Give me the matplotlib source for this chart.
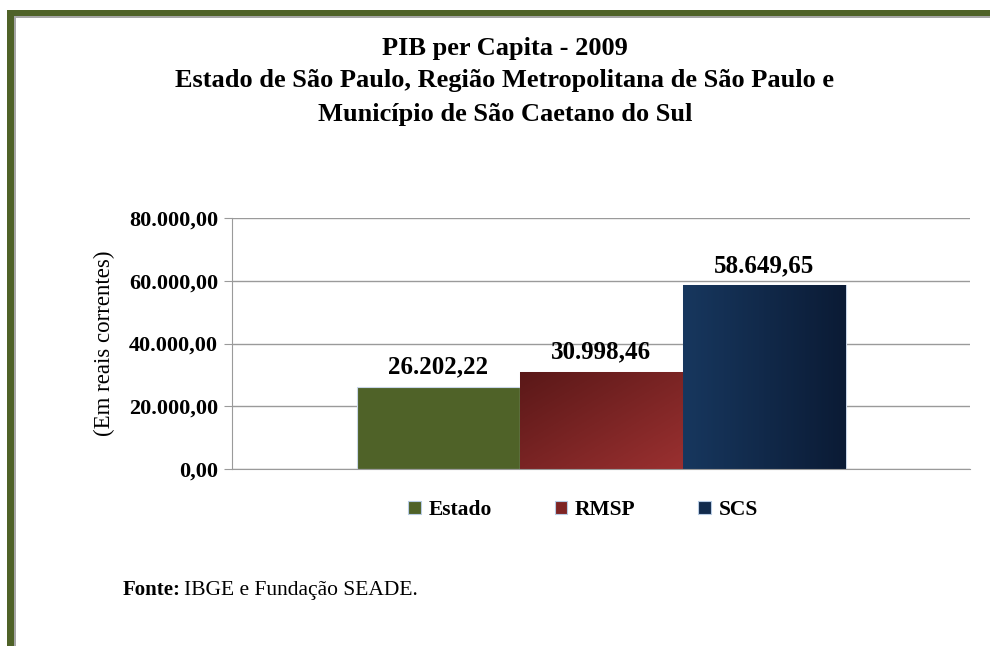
import numpy as np
import matplotlib
matplotlib.use("Agg")
import matplotlib.pyplot as plt
from matplotlib.patches import Patch, Rectangle
from matplotlib.colors import LinearSegmentedColormap

plt.rcParams['font.family'] = ['Liberation Serif', 'DejaVu Serif']

series = ['Estado', 'RMSP', 'SCS']
valores = [26202.22, 30998.46, 58649.65]
rotulos = ['26.202,22', '30.998,46', '58.649,65']
yticks = [0, 20000, 40000, 60000, 80000]
ytick_labels = ['0,00', '20.000,00', '40.000,00', '60.000,00', '80.000,00']

W, H = 990, 646
fig = plt.figure(figsize=(W / 100, H / 100), dpi=100)

# moldura verde oliva (lado esquerdo e topo)
olive = '#4F6228'
fig.add_artist(Rectangle((7 / W, 0), 7 / W, 1 - 10 / H, transform=fig.transFigure,
                         facecolor=olive, edgecolor='none'))
fig.add_artist(Rectangle((7 / W, 1 - 16 / H), 1, 6 / H, transform=fig.transFigure,
                         facecolor=olive, edgecolor='none'))
fig.add_artist(Rectangle((14 / W, 0), 2 / W, 1 - 16 / H, transform=fig.transFigure,
                         facecolor='#A6A6A6', edgecolor='none'))
fig.add_artist(Rectangle((14 / W, 1 - 18 / H), 1, 2 / H, transform=fig.transFigure,
                         facecolor='#A6A6A6', edgecolor='none'))

ax = fig.add_axes([232 / W, 177 / H, 738 / W, 251 / H])

largura = 163 / 738
pos = [-largura, 0, largura]

grads = {
    'Estado': None,
    'RMSP': ('diag', '#5A1818', '#9A3030'),
    'SCS': ('horiz', '#17375E', '#0B1B35'),
}
cores = {'Estado': '#4F6228', 'RMSP': '#7E2424', 'SCS': '#112A4C'}

barras = ax.bar(pos, valores, width=largura, color=[cores[s] for s in series],
                edgecolor='#C9D6E8', linewidth=0.8, zorder=2)

for b, s in zip(barras, series):
    g = grads[s]
    if g is None:
        continue
    x0, y0 = b.get_x(), b.get_y()
    w, h = b.get_width(), b.get_height()
    xx, yy = np.meshgrid(np.linspace(0, 1, 100), np.linspace(0, 1, 100))
    if g[0] == 'diag':
        z = (xx + (1 - yy)) / 2
    else:
        z = xx
    cmap = LinearSegmentedColormap.from_list(s, [g[1], g[2]])
    im = ax.imshow(z, extent=(x0, x0 + w, y0 + h, y0), origin='upper', cmap=cmap,
                   aspect='auto', zorder=2.5)
    im.set_clip_path(b)
ax.set_xlim(-0.5, 0.5)
ax.set_ylim(0, 80000)

for p, v, r in zip(pos, valores, rotulos):
    ax.text(p, v + 2600, r, ha='center', va='bottom', fontsize=18, fontweight='bold')

ax.set_yticks(yticks)
ax.set_yticklabels(ytick_labels, fontsize=16, fontweight='bold')
ax.set_xticks([])
ax.grid(axis='y', color='#9A9A9A', linewidth=1, zorder=0)
ax.set_axisbelow(True)
for lado in ['top', 'right']:
    ax.spines[lado].set_visible(False)
ax.spines['left'].set_color('#9A9A9A')
ax.spines['bottom'].set_color('#9A9A9A')
ax.tick_params(axis='y', color='#9A9A9A', length=6, pad=4)
ax.set_ylabel('(Em reais correntes)', fontsize=16.5, labelpad=10)

handles = [Patch(facecolor=cores[s], edgecolor='#B8CCE4', linewidth=0.8) for s in series]
fig.legend(handles, series, loc='center', bbox_to_anchor=(583 / W, 1 - 510 / H), ncol=3,
           frameon=False, handlelength=0.6, handleheight=0.6, handletextpad=0.35,
           columnspacing=2.9, prop={'weight': 'bold', 'size': 15.5})

fig.text(505 / W, 1 - 48 / H, 'PIB per Capita - 2009', ha='center', va='center',
         fontsize=19, fontweight='bold')
fig.text(505 / W, 1 - 81 / H, 'Estado de São Paulo, Região Metropolitana de São Paulo e',
         ha='center', va='center', fontsize=19, fontweight='bold')
fig.text(505 / W, 1 - 114 / H, 'Município de São Caetano do Sul', ha='center', va='center',
         fontsize=19, fontweight='bold')

fonte = fig.text(123 / W, 1 - 590 / H, 'Fonte:', ha='left', va='center', fontsize=15,
                 fontweight='bold')
fig.canvas.draw()
bb = fonte.get_window_extent()
fig.text((bb.x1 + 3) / W, 1 - 590 / H, 'IBGE e Fundação SEADE.', ha='left', va='center',
         fontsize=15.5)

fig.savefig('out.png', dpi=100)
